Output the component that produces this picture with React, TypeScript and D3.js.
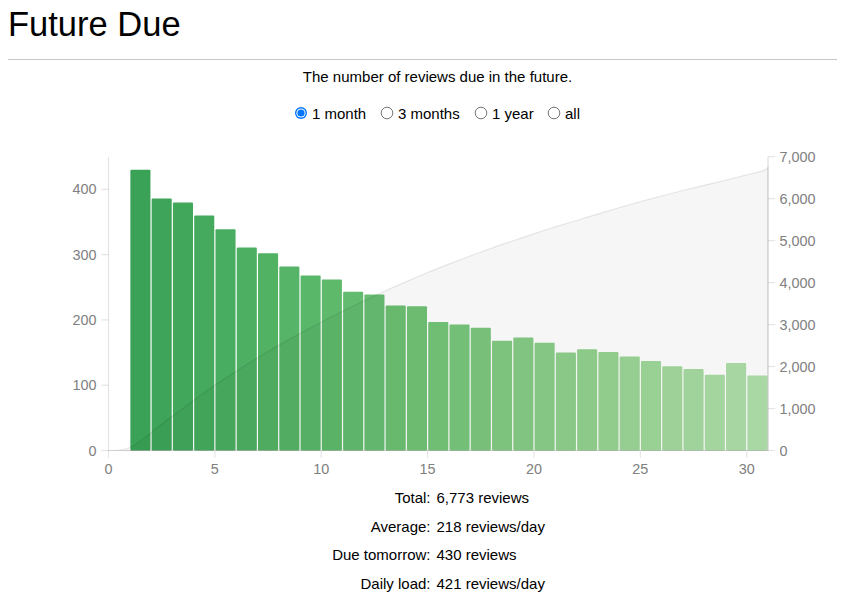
import * as d3 from "d3";

// reviews due per day, index = days from today (day 0 = today, none due)
const dueDays = d3.range(0, 31);
const dueCounts = [
  0, 430, 386, 380, 360, 339, 311, 302, 282, 268, 262, 243, 239, 222, 221, 197,
  193, 188, 168, 173, 165, 150, 155, 151, 144, 137, 129, 125, 116, 134, 115,
];
// reviews falling on the clipped last edge of the 1 month range
const clippedCount = 88;

const rangeOptions = ["1 month", "3 months", "1 year", "all"];
const selectedRange = 0;

const statLabels = ["Total:", "Average:", "Due tomorrow:", "Daily load:"];
const statValues = [
  "6,773 reviews",
  "218 reviews/day",
  "430 reviews",
  "421 reviews/day",
];

const xTicks = [0, 5, 10, 15, 20, 25, 30];

const FONT = "'Liberation Sans', Arial, sans-serif";
const W = 845;
const H = 603;
const LEFT = 108.5;
const RIGHT = 768;
const TOP = 156.7;
const BOTTOM = 450.5;
const CENTER_X = 437.5;
const BODY_FONT = 15;

// radio button x positions (circle centres) measured from the layout
const RADIO_X = [301, 387, 481, 554];

function Radio({ cx, cy, checked }: { cx: number; cy: number; checked: boolean }) {
  if (checked) {
    return (
      <g>
        <circle cx={cx} cy={cy} r={6} fill="#0075ff" />
        <circle cx={cx} cy={cy} r={4.6} fill="white" />
        <circle cx={cx} cy={cy} r={3.6} fill="#0075ff" />
      </g>
    );
  }
  return <circle cx={cx} cy={cy} r={5.8} fill="white" stroke="#767676" strokeWidth={1} />;
}

export default function App() {
  const x = d3.scaleLinear().domain([0, 31]).range([LEFT, RIGHT]);
  const yMax = d3.max(dueCounts) ?? 0;
  const y = d3.scaleLinear().domain([0, yMax]).nice().range([BOTTOM, TOP]);

  const total = d3.sum(dueCounts) + clippedCount;
  const yArea = d3.scaleLinear().domain([0, total]).nice().range([BOTTOM, TOP]);

  const t = d3.scaleLinear().domain([1, 30]).range([0.66, 0.32]);
  const colour = (d: number) => d3.interpolateGreens(t(d));

  // cumulative overlay, anki-style: first point at x0 of first bin, then x1 of each bin
  const areaCounts = [0, ...dueCounts, clippedCount];
  const areaX = [0, ...dueDays.map((d) => Math.min(d + 1, 31)), 31];
  const cum = d3.cumsum(areaCounts);
  const areaPts: [number, number][] = Array.from(cum, (c, i) => [areaX[i], c]);
  const area = d3
    .area<[number, number]>()
    .curve(d3.curveBasis)
    .x((d) => x(d[0]))
    .y0(BOTTOM)
    .y1((d) => yArea(d[1]));

  const axisLine = "rgba(0,0,0,0.1)";
  const tickText = "#808080";
  const tickFont = 14.4;

  return (
    <svg
      width={W}
      height={H}
      style={{ position: "absolute", left: 0, top: 0, fontFamily: FONT }}
    >
      <rect width={W} height={H} fill="white" />
      <text x={8} y={36} fontSize={34.5} fill="#000">
        Future Due
      </text>
      <line x1={8} x2={837} y1={59.5} y2={59.5} stroke="#c6c6c6" strokeWidth={1} />
      <text x={CENTER_X} y={81.5} fontSize={BODY_FONT} textAnchor="middle" fill="#000">
        The number of reviews due in the future.
      </text>

      {rangeOptions.map((label, i) => (
        <g key={label}>
          <Radio cx={RADIO_X[i]} cy={113} checked={i === selectedRange} />
          <text x={RADIO_X[i] + 11} y={118.5} fontSize={BODY_FONT} fill="#000">
            {label}
          </text>
        </g>
      ))}

      {/* bars */}
      <g>
        {dueDays
          .filter((d) => dueCounts[d] > 0)
          .map((d) => (
            <rect
              key={d}
              x={x(d) + 0.6}
              width={x(d + 1) - x(d) - 1.2}
              y={y(dueCounts[d])}
              height={BOTTOM - y(dueCounts[d])}
              rx={1}
              fill={colour(d)}
            />
          ))}
      </g>

      {/* cumulative overlay */}
      <path
        d={area(areaPts) ?? ""}
        fill="#000"
        fillOpacity={0.035}
        stroke="#000"
        strokeOpacity={0.09}
        strokeWidth={1.2}
      />

      {/* left axis */}
      <g fontSize={tickFont} fill={tickText}>
        <line x1={LEFT} x2={LEFT} y1={TOP} y2={BOTTOM} stroke={axisLine} strokeWidth={1.2} />
        {y.ticks(5).map((v) => (
          <g key={v}>
            <line x1={LEFT - 7.2} x2={LEFT} y1={y(v)} y2={y(v)} stroke={axisLine} strokeWidth={1.2} />
            <text x={LEFT - 12} y={y(v)} dy="0.35em" textAnchor="end">
              {v}
            </text>
          </g>
        ))}
      </g>

      {/* right axis */}
      <g fontSize={tickFont} fill={tickText}>
        <line x1={RIGHT} x2={RIGHT} y1={TOP} y2={BOTTOM} stroke={axisLine} strokeWidth={1.5} />
        {yArea.ticks(7).map((v) => (
          <g key={v}>
            <line x1={RIGHT} x2={RIGHT + 7.2} y1={yArea(v)} y2={yArea(v)} stroke={axisLine} strokeWidth={1.2} />
            <text x={RIGHT + 11.5} y={yArea(v)} dy="0.35em" textAnchor="start">
              {d3.format(",")(v)}
            </text>
          </g>
        ))}
      </g>

      {/* x axis */}
      <g fontSize={tickFont} fill={tickText}>
        <line x1={LEFT} x2={RIGHT} y1={BOTTOM} y2={BOTTOM} stroke={axisLine} strokeWidth={1.2} />
        {xTicks.map((v) => (
          <g key={v}>
            <line x1={x(v)} x2={x(v)} y1={BOTTOM} y2={BOTTOM + 7.2} stroke={axisLine} strokeWidth={1.2} />
            <text x={x(v)} y={BOTTOM + 23.5} textAnchor="middle">
              {v}
            </text>
          </g>
        ))}
      </g>

      {/* stats table */}
      {statLabels.map((label, i) => (
        <g key={label} fontSize={BODY_FONT} fill="#000">
          <text x={430.5} y={503 + i * 28.7} textAnchor="end">
            {label}
          </text>
          <text x={436.5} y={503 + i * 28.7}>
            {statValues[i]}
          </text>
        </g>
      ))}
    </svg>
  );
}
